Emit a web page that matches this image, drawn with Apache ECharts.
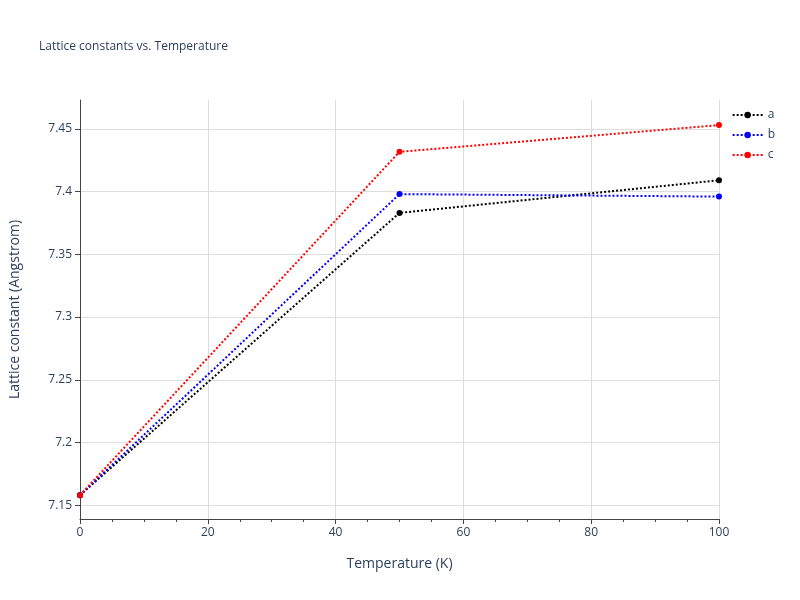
<!DOCTYPE html>
<html><head><meta charset="utf-8">
<script src="https://cdn.jsdelivr.net/npm/echarts@6/dist/echarts.min.js"></script>
<style>html,body{margin:0;padding:0;background:#fff}#c{width:800px;height:600px}</style>
</head><body><div id="c"></div>
<script>
const temps = [0, 50, 100];
const seriesA = [7.158, 7.383, 7.409];
const seriesB = [7.158, 7.398, 7.396];
const seriesC = [7.158, 7.4317, 7.453];
const yTicks = [7.15, 7.2, 7.25, 7.3, 7.35, 7.4, 7.45];
const names = ['a', 'b', 'c'];
const colors = ['#000000', '#0000ff', '#ff0000'];
const all = [seriesA, seriesB, seriesC];
const chart = echarts.init(document.getElementById('c'));
const fontF = '"Open Sans", Verdana, sans-serif';
chart.setOption({
  title: {text: 'Lattice constants vs. Temperature', left: 34, top: 36,
    textStyle: {fontSize: 12, fontWeight: 'normal', color: '#2a3f5f', fontFamily: fontF}},
  legend: {orient: 'vertical', right: 20, top: 104, itemGap: 8, itemWidth: 30, itemHeight: 8,
    textStyle: {color: '#2a3f5f', fontSize: 12, fontFamily: fontF},
    data: names},
  grid: {left: 80, right: 81, top: 100, bottom: 81},
  xAxis: {type: 'value', min: 0, max: 100, interval: 20,
    name: 'Temperature (K)', nameLocation: 'middle', nameGap: 38,
    nameTextStyle: {color: '#2a3f5f', fontSize: 14, fontFamily: fontF},
    axisLine: {show: true, onZero: false, lineStyle: {color: '#444'}},
    axisTick: {show: true, length: 5, lineStyle: {color: '#444'}},
    minorTick: {show: true, splitNumber: 4, length: 3, lineStyle: {color: '#444'}},
    axisLabel: {color: '#2a3f5f', fontSize: 12, fontFamily: fontF},
    splitLine: {show: true, lineStyle: {color: '#dddddd'}}},
  yAxis: {type: 'value', min: 7.139, max: 7.473,
    name: 'Lattice constant (Angstrom)', nameLocation: 'middle', nameGap: 58,
    nameTextStyle: {color: '#2a3f5f', fontSize: 14, fontFamily: fontF},
    axisLine: {show: true, onZero: false, lineStyle: {color: '#444'}},
    axisTick: {show: true, length: 5, customValues: yTicks, lineStyle: {color: '#444'}},
    axisLabel: {color: '#2a3f5f', fontSize: 12, fontFamily: fontF, customValues: yTicks,
      formatter: v => String(+v.toFixed(2))},
    splitLine: {show: true, lineStyle: {color: '#dddddd'}}},
  series: all.map((d, i) => ({
    name: names[i], type: 'line', data: temps.map((t, j) => [t, d[j]]),
    symbol: 'circle', symbolSize: 6, color: colors[i],
    lineStyle: {type: [2, 2], width: 2, color: colors[i]},
    itemStyle: {color: colors[i]}
  }))
});
</script></body></html>
